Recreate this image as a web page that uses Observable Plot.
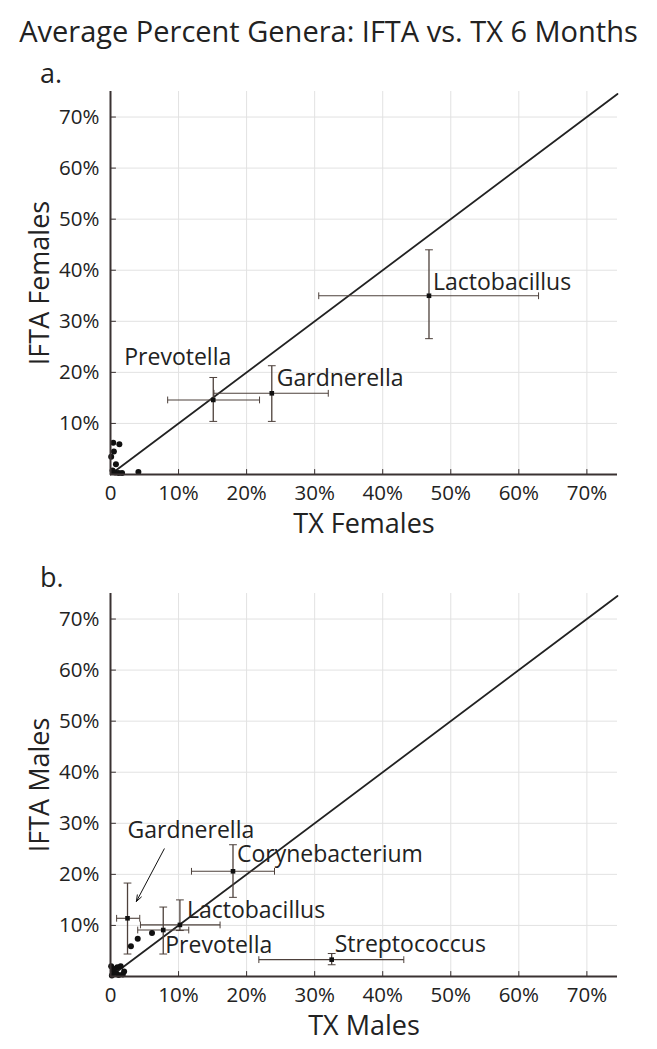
<!DOCTYPE html>
<html>
<head>
<meta charset="utf-8">
<script src="https://cdn.jsdelivr.net/npm/d3@7"></script>
<script src="https://cdn.jsdelivr.net/npm/@observablehq/plot@0.6"></script>
<style>
  body { margin: 0; background: #fff; font-family: "Open Sans", sans-serif; }
  #page { position: relative; width: 657px; height: 1049px; overflow: hidden; background: #fff; }
  #title { position: absolute; top: 11px; left: 0; width: 657px; text-align: center; font-size: 29px; color: #222; white-space: nowrap; }
  .panel-label { position: absolute; left: 40px; font-size: 27px; color: #222; }
  #panelA, #panelB { position: absolute; left: 0; }
  #panelA { top: 50px; }
  #panelB { top: 552px; }
</style>
</head>
<body>
<div id="page">
  <div id="title">Average Percent Genera: IFTA vs. TX 6 Months</div>
  <div class="panel-label" style="top:54px">a.</div>
  <div class="panel-label" style="top:558px">b.</div>
  <div id="panelA"></div>
  <div id="panelB"></div>
</div>
<script>
// ---------- shared tick values ----------
const xTicks = [0, 0.1, 0.2, 0.3, 0.4, 0.5, 0.6, 0.7];
const yTicks = [0.1, 0.2, 0.3, 0.4, 0.5, 0.6, 0.7];
const identityLine = [0, 0.745];

// ---------- panel a: females ----------
const femaleGenera   = ["Lactobacillus", "Gardnerella", "Prevotella"];
const femaleTX       = [0.468, 0.237, 0.151];
const femaleTXLow    = [0.306, 0.152, 0.084];
const femaleTXHigh   = [0.629, 0.320, 0.219];
const femaleIFTA     = [0.350, 0.159, 0.146];
const femaleIFTALow  = [0.266, 0.104, 0.104];
const femaleIFTAHigh = [0.440, 0.213, 0.190];
const femaleOtherTX   = [0.004, 0.013, 0.005, 0.008, 0.003, 0.007, 0.012, 0.017, 0.041, 0.001];
const femaleOtherIFTA = [0.062, 0.059, 0.045, 0.020, 0.008, 0.004, 0.003, 0.003, 0.005, 0.035];

// ---------- panel b: males ----------
const maleGenera   = ["Corynebacterium", "Gardnerella", "Lactobacillus", "Prevotella", "Streptococcus"];
const maleTX       = [0.180, 0.025, 0.102, 0.0775, 0.325];
const maleTXLow    = [0.119, 0.009, 0.044, 0.040, 0.218];
const maleTXHigh   = [0.241, 0.043, 0.161, 0.115, 0.431];
const maleIFTA     = [0.206, 0.114, 0.101, 0.091, 0.033];
const maleIFTALow  = [0.155, 0.044, 0.090, 0.044, 0.023];
const maleIFTAHigh = [0.258, 0.183, 0.150, 0.136, 0.045];
const maleOtherTX   = [0.061, 0.040, 0.030, 0.002, 0.005, 0.010, 0.015, 0.020, 0.012, 0.004, 0.018, 0.008, 0.001];
const maleOtherIFTA = [0.085, 0.074, 0.059, 0.002, 0.010, 0.018, 0.020, 0.010, 0.003, 0.015, 0.004, 0.007, 0.020];
// annotation arrow for Gardnerella (males): start under the label
const maleArrowFromTX = 0.079;
const maleArrowFromIFTA = 0.25;

// ---------- styles ----------
const errColor = "#4d403b";
const axisColor = "#3a3232";
const labelOffsets = {
  a: {
    Lactobacillus: {dx: 4, dy: -13, anchor: "start"},
    Gardnerella: {dx: 5, dy: -15, anchor: "start"},
    Prevotella: {dx: 18, dy: -42, anchor: "end"}
  },
  b: {
    Corynebacterium: {dx: 4, dy: -17, anchor: "start"},
    Gardnerella: {dx: 0, dy: -88, anchor: "start"},
    Lactobacillus: {dx: 7, dy: -14, anchor: "start"},
    Prevotella: {dx: 2, dy: 16, anchor: "start"},
    Streptococcus: {dx: 3, dy: -15, anchor: "start"}
  }
};

const lineShape = {
  draw(context, l) { context.moveTo(0, 0); context.lineTo(0, -l); }
};

function rowsOf(names, x, xlo, xhi, y, ylo, yhi) {
  return names.map((name, i) => ({name, x: x[i], xlo: xlo[i], xhi: xhi[i], y: y[i], ylo: ylo[i], yhi: yhi[i]}));
}

function makePanel({rows, otherX, otherY, offsets, xLabel, yLabel, height, marginBottom, extra = []}) {
  const others = otherX.map((x, i) => ({x, y: otherY[i]}));
  const labelMarks = rows.map(r => {
    const o = offsets[r.name];
    return Plot.text([r], {x: "x", y: "y", text: "name", dx: o.dx, dy: o.dy, textAnchor: o.anchor, fontSize: 23, fill: "#222"});
  });
  return Plot.plot({
    width: 657,
    height,
    marginLeft: 110,
    marginRight: 40,
    marginTop: 41,
    marginBottom,
    style: {fontFamily: "Open Sans, sans-serif", color: "#222", background: "transparent", overflow: "visible"},
    x: {domain: [0, 0.745]},
    y: {domain: [0, 0.75]},
    marks: [
      Plot.ruleX(xTicks.slice(1), {stroke: "#e2e2e2", strokeWidth: 1}),
      Plot.ruleY(yTicks, {stroke: "#e2e2e2", strokeWidth: 1}),
      Plot.line(identityLine.map(d => ({x: d, y: d})), {x: "x", y: "y", stroke: "#222", strokeWidth: 1.8}),
      // error bars
      Plot.link(rows, {x1: "xlo", x2: "xhi", y1: "y", y2: "y", stroke: errColor, strokeWidth: 1.1}),
      Plot.link(rows, {x1: "x", x2: "x", y1: "ylo", y2: "yhi", stroke: errColor, strokeWidth: 1.3}),
      Plot.vector(rows, {x: "xlo", y: "y", length: 6, anchor: "middle", shape: lineShape, stroke: errColor, strokeWidth: 1}),
      Plot.vector(rows, {x: "xhi", y: "y", length: 6, anchor: "middle", shape: lineShape, stroke: errColor, strokeWidth: 1}),
      Plot.vector(rows, {x: "x", y: "ylo", length: 7, rotate: 90, anchor: "middle", shape: lineShape, stroke: errColor, strokeWidth: 1}),
      Plot.vector(rows, {x: "x", y: "yhi", length: 7, rotate: 90, anchor: "middle", shape: lineShape, stroke: errColor, strokeWidth: 1}),
      ...extra,
      // points
      Plot.dot(others, {x: "x", y: "y", r: 3, fill: "#111"}),
      Plot.dot(rows, {x: "x", y: "y", symbol: "square", r: 2.6, fill: "#111"}),
      ...labelMarks,
      // axis lines + inward ticks
      Plot.ruleX([0], {stroke: axisColor, strokeWidth: 2}),
      Plot.ruleY([0], {stroke: axisColor, strokeWidth: 2}),
      Plot.vector(xTicks.slice(1), {x: d => d, y: 0, length: 5, anchor: "start", shape: lineShape, stroke: axisColor, strokeWidth: 1}),
      Plot.vector(yTicks, {x: 0, y: d => d, length: 5, rotate: 90, anchor: "start", shape: lineShape, stroke: axisColor, strokeWidth: 1}),
      Plot.axisX(xTicks, {tickSize: 0, tickPadding: 11, fontSize: 20.5, label: null, tickFormat: d => d === 0 ? "0" : d3.format(".0%")(d), fill: "#222"}),
      Plot.axisY(yTicks, {tickSize: 0, tickPadding: 11, fontSize: 20.5, label: null, tickFormat: d3.format(".0%"), fill: "#222"}),
      Plot.text([xLabel], {text: d => d, frameAnchor: "bottom", lineAnchor: "middle", textAnchor: "middle", dy: 50, fontSize: 27, fill: "#222"}),
      Plot.text([yLabel], {text: d => d, frameAnchor: "left", lineAnchor: "middle", textAnchor: "middle", rotate: -90, dx: -70, fontSize: 27, fill: "#222"})
    ]
  });
}

const rowsA = rowsOf(femaleGenera, femaleTX, femaleTXLow, femaleTXHigh, femaleIFTA, femaleIFTALow, femaleIFTAHigh);
const rowsB = rowsOf(maleGenera, maleTX, maleTXLow, maleTXHigh, maleIFTA, maleIFTALow, maleIFTAHigh);
const gard = rowsB.find(r => r.name === "Gardnerella");
const arrowRows = [{x1: maleArrowFromTX, y1: maleArrowFromIFTA, x2: gard.x, y2: gard.y}];

document.getElementById("panelA").append(makePanel({
  rows: rowsA, otherX: femaleOtherTX, otherY: femaleOtherIFTA, offsets: labelOffsets.a,
  xLabel: "TX Females", yLabel: "IFTA Females", height: 500, marginBottom: 76
}));
document.getElementById("panelB").append(makePanel({
  rows: rowsB, otherX: maleOtherTX, otherY: maleOtherIFTA, offsets: labelOffsets.b,
  xLabel: "TX Males", yLabel: "IFTA Males", height: 497, marginBottom: 73,
  extra: [Plot.arrow(arrowRows, {x1: "x1", y1: "y1", x2: "x2", y2: "y2", insetEnd: 19, headLength: 10, headAngle: 40, stroke: "#111", strokeWidth: 1})]
}));
</script>
</body>
</html>
